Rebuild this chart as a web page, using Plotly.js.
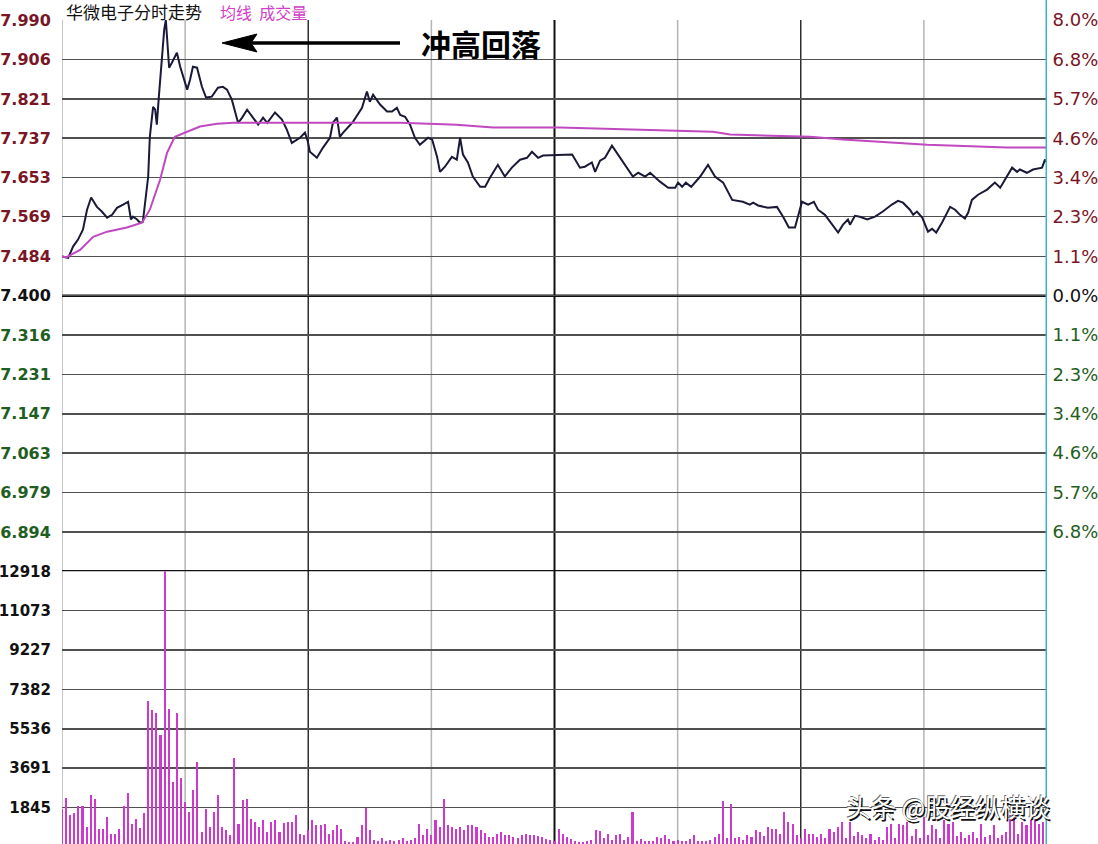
<!DOCTYPE html>
<html>
<head>
<meta charset="utf-8">
<script src="https://cdn.plot.ly/plotly-3.0.1.min.js"></script>
<style>
html,body{margin:0;padding:0;background:#fff;overflow:hidden;}
#chart{width:1098px;height:847px;}
</style>
</head>
<body>
<div id="chart"></div>
<script>
// ---- data (minutes after 9:30 on the session axis, prices in yuan) ----
const priceTime = [0,1.5,2.7,3.9,5.1,6.1,7.1,8.5,9.7,11,
12.2,13.4,14.9,16.1,16.8,17.3,18.3,19,19.7,21,
21.4,22.2,22.7,23.1,23.6,24.4,24.9,25.3,25.6,26.1,
26.8,28,28.8,30.5,31.2,31.9,32.9,34.1,35.1,36.5,
38,39.2,40.2,41.4,42.9,43.9,45.1,46.3,47.8,49,
50,51.9,53.6,54.8,56,58,59.2,59.9,60.4,62.1,
63.6,65.3,66,67,67.7,68.5,70.9,73.1,74.3,75,
75.8,77.5,79.2,80.4,81.6,82.4,83.6,84.8,86,87.2,
89.2,90.2,91.4,92.1,93.3,95,96.2,97,97.7,98.9,
100.1,101.9,103.1,104.3,106.2,107.9,109.6,111.6,113.3,114.5,
116,117.2,124.3,126.2,127.4,129.1,129.9,131.1,132.3,134,
136,137.7,139.1,140.4,142.1,143.3,145.7,147.7,149.4,150.1,
151.1,152,153.3,155.5,157.4,159.1,161.1,163.3,165.9,167.6,
168.4,169.6,172,174.2,175.7,177.1,178.6,180.3,181.8,183.2,
184.2,185.9,187.6,189.1,190.3,191.5,192,193.2,194.4,196.2,
198.1,200,202.2,203.7,204.9,206.6,207.4,208.3,209.6,211,
212,213,214.4,216.4,217.6,218.8,220,220.8,221.7,223.2,
225.4,227.3,228.6,229.8,231.5,232.7,233.4,235.1,236.6,238.8,
239.5,240];
const priceValue = [7.484,7.481,7.505,7.520,7.541,7.584,7.610,7.590,7.580,7.567,
7.573,7.588,7.595,7.601,7.563,7.569,7.563,7.556,7.558,7.655,
7.740,7.804,7.798,7.766,7.826,7.905,7.969,7.990,7.948,7.888,
7.899,7.920,7.890,7.841,7.862,7.890,7.888,7.847,7.824,7.826,
7.845,7.847,7.841,7.819,7.770,7.781,7.798,7.783,7.766,7.781,
7.770,7.792,7.777,7.755,7.727,7.738,7.749,7.730,7.708,7.695,
7.717,7.738,7.770,7.781,7.740,7.749,7.772,7.802,7.837,7.815,
7.830,7.809,7.794,7.794,7.802,7.787,7.783,7.766,7.738,7.723,
7.738,7.734,7.697,7.665,7.676,7.697,7.691,7.738,7.702,7.685,
7.655,7.633,7.633,7.653,7.680,7.655,7.674,7.691,7.695,7.708,
7.695,7.700,7.702,7.674,7.676,7.685,7.665,7.689,7.695,7.721,
7.695,7.674,7.655,7.663,7.655,7.663,7.644,7.631,7.631,7.642,
7.633,7.642,7.633,7.655,7.680,7.655,7.642,7.605,7.601,7.595,
7.599,7.593,7.588,7.590,7.569,7.546,7.546,7.601,7.595,7.601,
7.584,7.573,7.552,7.535,7.552,7.563,7.552,7.571,7.569,7.563,
7.569,7.580,7.595,7.603,7.599,7.584,7.573,7.580,7.567,7.537,
7.543,7.535,7.556,7.590,7.584,7.573,7.565,7.578,7.605,7.616,
7.627,7.642,7.631,7.648,7.674,7.665,7.670,7.663,7.670,7.674,
7.691,7.685];

const avgTime = [0,1,4.4,7.6,11,15.8,19.5,21.4,23.9,25.6,27.5,30.5,33.6,37.8,41.7,60.4,82.4,96.2,105,121.3,133.5,150.3,158.6,162.8,175,182.3,190.3,210.8,230.3,240];
const avgValue = [7.484,7.482,7.498,7.526,7.537,7.546,7.556,7.584,7.648,7.706,7.740,7.751,7.762,7.768,7.770,7.770,7.770,7.766,7.760,7.760,7.757,7.753,7.751,7.745,7.742,7.740,7.734,7.723,7.717,7.717];

// volume per minute, minute 0 .. 240
const volume = [1800,2300,1490,1610,1925,1925,940,2430,2240,830,
850,1410,625,625,830,1925,2550,1095,1330,900,
1610,6840,6420,6260,5270,12918,6490,3050,6260,3240,
2110,1640,2660,3960,700,1800,940,1640,2430,940,
780,550,4150,1095,2190,2240,1330,1175,940,1250,
700,1175,1250,700,1145,1175,1175,1490,625,550,
800,1250,1020,1020,1095,600,780,1020,860,300,
250,235,470,1020,1830,780,350,300,400,300,
350,300,350,400,300,350,400,1095,550,860,
550,1250,940,2270,1020,940,860,940,780,1020,
1050,940,780,670,470,470,620,700,550,550,
470,400,550,620,550,550,520,470,390,350,
300,860,620,470,390,300,235,235,300,350,
780,730,400,620,350,550,620,350,470,1640,
300,390,300,260,300,470,400,550,390,300,
350,260,300,390,550,300,260,300,350,470,
620,2160,400,2000,400,470,350,550,450,780,
700,500,940,860,860,620,1640,1175,1095,550,
400,860,620,620,470,620,400,860,700,940,
1175,400,1175,500,700,550,400,620,350,470,
350,940,1095,400,1095,1020,1175,500,860,400,
1410,550,1020,860,400,1250,1095,1175,500,700,
400,550,700,400,1095,450,550,1020,400,550,
700,1480,1410,600,1175,1020,1250,1410,1095,1175,
940];

const prevClose = 7.400;
const priceTicks = [7.990,7.906,7.821,7.737,7.653,7.569,7.484,7.400,7.316,7.231,7.147,7.063,6.979,6.894];
const pctLabels = ['8.0%','6.8%','5.7%','4.6%','3.4%','2.3%','1.1%','0.0%','1.1%','2.3%','3.4%','4.6%','5.7%','6.8%'];
const volTicks = [1845,3691,5536,7382,9227,11073,12918];
const priceRange = [6.810, 7.990];
const volRange = [0, 12918];

const titleText = '华微电子分时走势';
const legendText = '均线&nbsp;&nbsp;成交量';
const noteText = '冲高回落';
const markText = '头条 @股经纵横谈';

// ---- styling / layout helpers ----
const RED = '#7a1526', GREEN = '#1f5e22', BLACK = '#111';
function tickColor(v){ return Math.abs(v-prevClose) < 1e-6 ? BLACK : (v > prevClose ? RED : GREEN); }
const leftText = priceTicks.map(v => `<span style="color:${tickColor(v)}">${v.toFixed(3)}</span>`);
const rightText = priceTicks.map((v,i) => `<span style="color:${tickColor(v)}">${pctLabels[i]}</span>`);

const minuteIdx = volume.map((_, i) => i);

const traces = [
  {type:'bar', x:minuteIdx, y:volume, xaxis:'x', yaxis:'y2', width:0.5,
   marker:{color:'#cf38cf', line:{width:0}}, hoverinfo:'skip'},
  {type:'scatter', mode:'lines', x:avgTime, y:avgValue, xaxis:'x', yaxis:'y3',
   line:{color:'#c048c0', width:2}, hoverinfo:'skip'},
  {type:'scatter', mode:'lines', x:priceTime, y:priceValue, xaxis:'x', yaxis:'y',
   line:{color:'#1a1a38', width:2}, hoverinfo:'skip'}
];

const H = 847, T = 20;
const plotH = H - T;
const px2py = py => (H - py) / plotH;
const px2px = px => (px - 62) / 985;

const lightV = [30, 90, 150, 210];
const darkV = [60, 180];
const noonV = [120];

const shapes = [];
lightV.concat([0]).forEach(t => shapes.push({type:'line', xref:'x', yref:'paper', x0:t, x1:t, y0:0, y1:1, layer:'below', line:{color:'#b4b4b4', width:1.5}}));
darkV.forEach(t => shapes.push({type:'line', xref:'x', yref:'paper', x0:t, x1:t, y0:0, y1:1, layer:'below', line:{color:'#2e2e2e', width:1.5}}));
noonV.forEach(t => shapes.push({type:'line', xref:'x', yref:'paper', x0:t, x1:t, y0:0, y1:1, layer:'below', line:{color:'#111', width:2}}));
shapes.push({type:'line', xref:'paper', yref:'y', x0:0, x1:1, y0:prevClose, y1:prevClose, layer:'below', line:{color:'#111', width:2.5}});
shapes.push({type:'line', xref:'paper', yref:'y', x0:0, x1:1, y0:priceRange[0], y1:priceRange[0], layer:'below', line:{color:'#111', width:2.5}});
shapes.push({type:'line', xref:'x', yref:'paper', x0:240, x1:240, y0:-0.01, y1:1.03, layer:'above', line:{color:'#36b4cf', width:3}});
// arrow
shapes.push({type:'line', xref:'paper', yref:'paper', x0:px2px(250), x1:px2px(400), y0:px2py(43), y1:px2py(43), layer:'above', line:{color:'#000', width:3.5}});
shapes.push({type:'path', xref:'paper', yref:'paper', layer:'above', fillcolor:'#000', line:{color:'#000', width:1},
  path:`M ${px2px(222)},${px2py(43)} L ${px2px(257)},${px2py(34)} L ${px2px(251)},${px2py(43)} L ${px2px(257)},${px2py(52)} Z`});

const annotations = [
  {text:titleText, xref:'paper', yref:'paper', x:px2px(65), y:px2py(12), xanchor:'left', yanchor:'middle', showarrow:false, borderpad:0,
   font:{family:'Noto Sans CJK SC', size:17, color:'#111'}},
  {text:legendText, xref:'paper', yref:'paper', x:px2px(219), y:px2py(12), xanchor:'left', yanchor:'middle', showarrow:false, borderpad:0,
   font:{family:'Noto Sans CJK SC', size:16, color:'#d040c8'}},
  {text:noteText, xref:'paper', yref:'paper', x:px2px(481), y:px2py(43), xanchor:'center', yanchor:'middle', showarrow:false,
   font:{family:'Noto Sans CJK SC', size:30, color:'#000', weight:'bold'}},
  {text:markText, xref:'paper', yref:'paper', x:px2px(844), y:px2py(806), xanchor:'left', yanchor:'middle', showarrow:false,
   font:{family:'Noto Sans CJK SC', size:25, color:'#ffffff', shadow:'1.5px 1.5px 0px #111, -0.7px -0.7px 0px #666'}}
];

const layout = {
  width:1098, height:H,
  margin:{l:62, r:51, t:T, b:0, pad:0},
  paper_bgcolor:'#fff', plot_bgcolor:'#fff',
  showlegend:false, hovermode:false, bargap:0,
  xaxis:{range:[0,240], domain:[0,1], showgrid:false, zeroline:false, showticklabels:false, ticks:'', showline:false, fixedrange:true},
  yaxis:{domain:[7/21,1], range:priceRange, tickvals:priceTicks, ticktext:leftText, showgrid:true, gridcolor:'#505050', gridwidth:1.5,
         zeroline:false, ticks:'outside', ticklen:7, tickcolor:'rgba(0,0,0,0)', side:'left',
         tickfont:{family:'DejaVu Sans', size:16, color:'#111', weight:'bold'}, fixedrange:true},
  yaxis3:{overlaying:'y', side:'right', range:priceRange, tickvals:priceTicks, ticktext:rightText, showgrid:false, zeroline:false,
         ticks:'outside', ticklen:1, tickcolor:'rgba(0,0,0,0)', tickfont:{family:'DejaVu Sans', size:18, color:'#111'}, fixedrange:true},
  yaxis2:{domain:[0,7/21], range:volRange, tickvals:volTicks, ticktext:volTicks.map(String), showgrid:true, gridcolor:'#505050', gridwidth:1.5,
         zeroline:false, ticks:'outside', ticklen:7, tickcolor:'rgba(0,0,0,0)',
         tickfont:{family:'DejaVu Sans', size:15, color:'#111', weight:'bold'}, fixedrange:true},
  shapes:shapes,
  annotations:annotations
};

Plotly.newPlot('chart', traces, layout, {displayModeBar:false, staticPlot:true});
</script>
</body>
</html>
